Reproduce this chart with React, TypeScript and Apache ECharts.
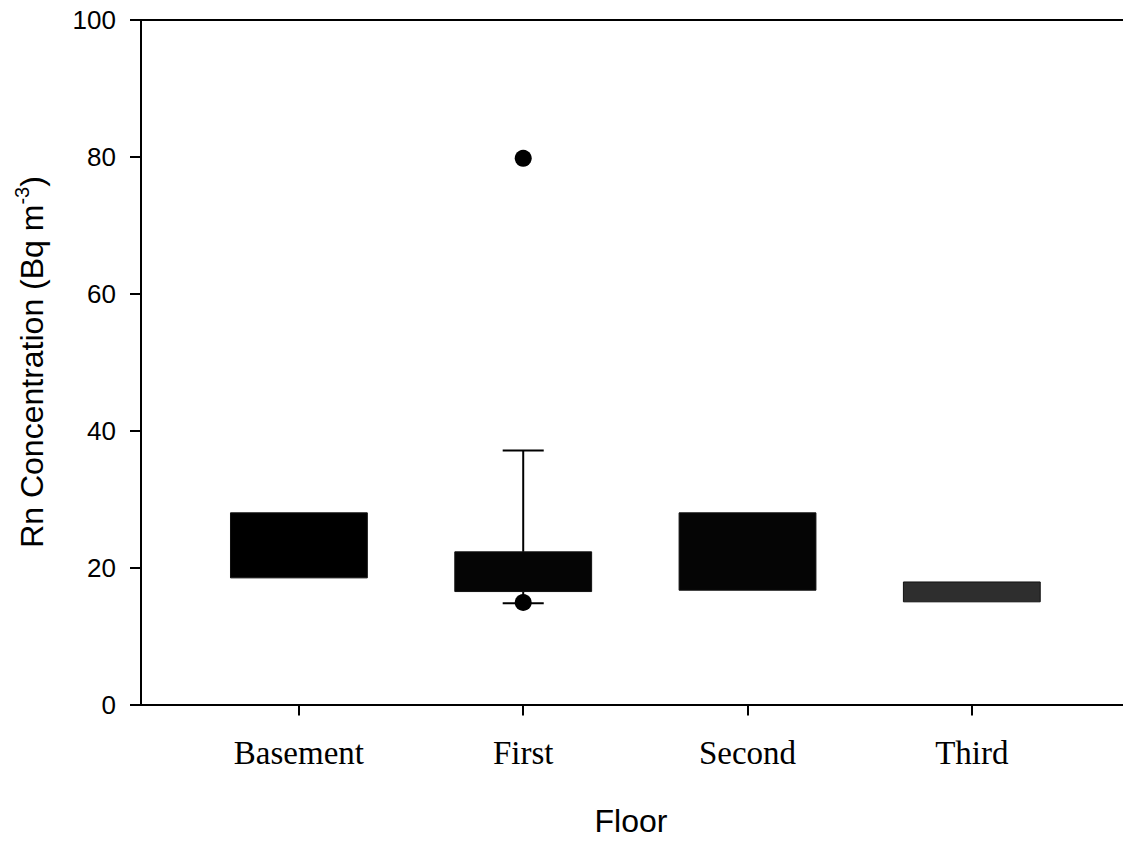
import React, { useEffect, useRef } from "react";
import * as echarts from "echarts";

const categories = ["Basement", "First", "Second", "Third"];
const q1Values = [18.5, 16.5, 16.7, 15.0];
const q3Values = [28.0, 22.3, 28.0, 17.9];
// whiskers: [category position (1-based), from, to]
const whiskerUpper = [[2, 22.3, 37.1]];
const whiskerLower = [[2, 16.5, 14.8]];
const outliers = [[2, 79.8], [2, 14.9]];
const yTicks = [0, 20, 40, 60, 80, 100];

const boxColors = ["#000000", "#050505", "#050505", "#2e2e2e"];

export default function App() {
  const ref = useRef<HTMLDivElement>(null);
  useEffect(() => {
    document.body.style.margin = "0";
    const chart = echarts.init(ref.current!, null, { renderer: "svg" });
    const boxData = categories.map((c, i) => [i + 1, q1Values[i], q3Values[i], i]);
    const whiskers = [...whiskerUpper, ...whiskerLower];
    chart.setOption({
      animation: false,
      backgroundColor: "#ffffff",
      grid: { left: 141, right: 0, top: 20, bottom: 155.5 },
      xAxis: [
        {
          type: "value",
          min: 0.296,
          max: 4.674,
          splitLine: { show: false },
          axisLine: { show: true, onZero: false, lineStyle: { color: "#000", width: 2 } },
          axisTick: { show: true, customValues: [1, 2, 3, 4], length: 11, lineStyle: { color: "#000", width: 2 } },
          axisLabel: {
            customValues: [1, 2, 3, 4],
            formatter: (v: number) => categories[Math.round(v) - 1] ?? "",
            margin: 32,
            fontFamily: "Liberation Serif",
            fontSize: 33,
            color: "#000",
          },
        },
        {
          type: "value",
          position: "top",
          min: 0.296,
          max: 4.674,
          splitLine: { show: false },
          axisLine: { show: true, onZero: false, lineStyle: { color: "#000", width: 2 } },
          axisTick: { show: false },
          axisLabel: { show: false },
        },
      ],
      yAxis: {
        type: "value",
        min: 0,
        max: 100,
        interval: 20,
        splitLine: { show: false },
        axisLine: { show: true, lineStyle: { color: "#000", width: 2 } },
        axisTick: { show: true, length: 11, lineStyle: { color: "#000", width: 2 } },
        axisLabel: {
          margin: 25,
          fontFamily: "Liberation Sans",
          fontSize: 26,
          color: "#000",
          formatter: (v: number) => (yTicks.includes(v) ? String(v) : ""),
        },
      },
      graphic: [
        {
          type: "text",
          x: 631,
          y: 821,
          style: {
            text: "Floor",
            fontFamily: "Liberation Sans",
            fontSize: 32,
            fill: "#000",
            textAlign: "center",
            textVerticalAlign: "middle",
          },
        },
        {
          type: "text",
          x: 32,
          y: 362,
          rotation: Math.PI / 2,
          style: {
            text: "Rn Concentration (Bq m{sup|-3})",
            fontFamily: "Liberation Sans",
            fontSize: 32,
            fill: "#000",
            textAlign: "center",
            textVerticalAlign: "middle",
            rich: {
              sup: { fontSize: 20, fontFamily: "Liberation Sans", fill: "#000", padding: [0, 0, 20, 0] },
            },
          },
        },
      ],
      series: [
        {
          type: "custom",
          data: whiskers,
          renderItem: (params: any, api: any) => {
            const x = api.value(0);
            const a = api.coord([x, api.value(1)]);
            const b = api.coord([x, api.value(2)]);
            const cap = api.size([1, 0])[0] * 0.183;
            return {
              type: "group",
              children: [
                { type: "line", shape: { x1: a[0], y1: a[1], x2: b[0], y2: b[1] }, style: { stroke: "#000", lineWidth: 2 } },
                { type: "line", shape: { x1: b[0] - cap / 2, y1: b[1], x2: b[0] + cap / 2, y2: b[1] }, style: { stroke: "#000", lineWidth: 2 } },
              ],
            };
          },
          z: 1,
        },
        {
          type: "custom",
          data: boxData,
          renderItem: (params: any, api: any) => {
            const x = api.value(0);
            const lo = api.coord([x, api.value(1)]);
            const hi = api.coord([x, api.value(2)]);
            const w = api.size([1, 0])[0] * 0.61;
            return {
              type: "rect",
              shape: { x: lo[0] - w / 2, y: hi[1], width: w, height: lo[1] - hi[1] },
              style: { fill: boxColors[api.value(3)], stroke: "#111", lineWidth: 1 },
            };
          },
          z: 2,
        },
        {
          type: "scatter",
          data: outliers,
          symbol: "circle",
          symbolSize: 17,
          itemStyle: { color: "#000", opacity: 1 },
          z: 3,
        },
      ],
    });
    return () => chart.dispose();
  }, []);
  return <div ref={ref} style={{ width: 1123, height: 860 }} />;
}
